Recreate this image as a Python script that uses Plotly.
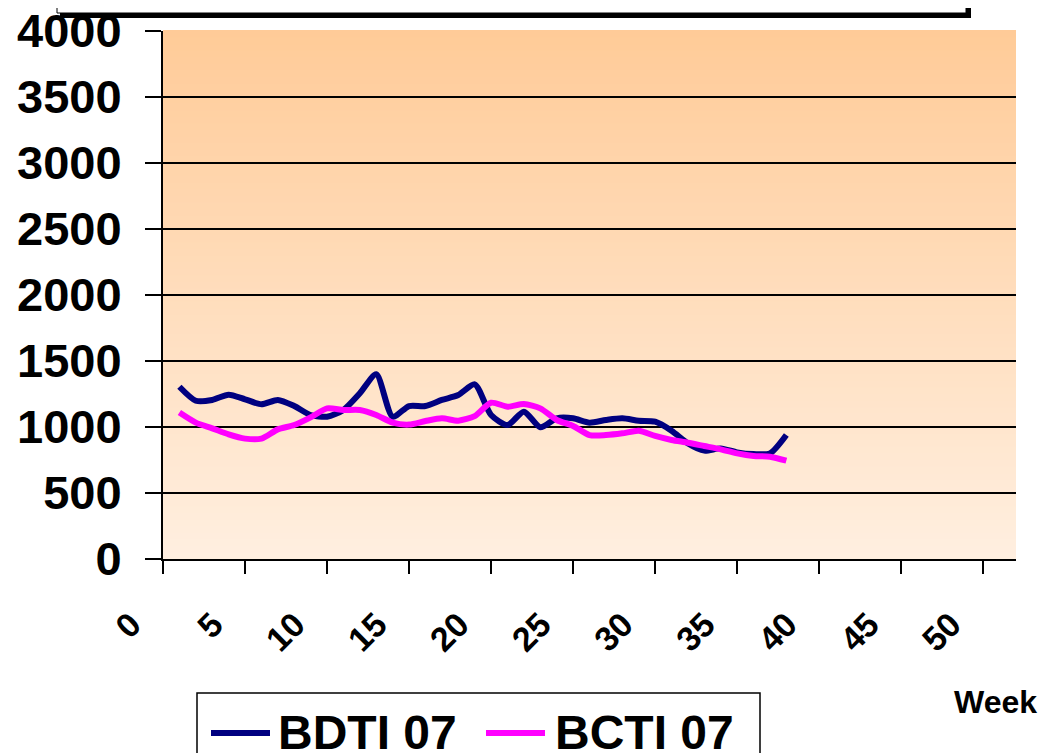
import plotly.graph_objects as go

weeks = list(range(1, 39))
bdti_07 = [1305, 1199, 1205, 1245, 1210, 1172, 1205, 1159, 1091, 1078,
           1129, 1255, 1399, 1078, 1159, 1159, 1205, 1242, 1323, 1091,
           1015, 1116, 998, 1066, 1066, 1033, 1053, 1066, 1048, 1040,
           972, 876, 821, 838, 808, 795, 800, 939]
bcti_07 = [1109, 1033, 990, 944, 912, 912, 982, 1015, 1073, 1141,
           1129, 1129, 1091, 1033, 1018, 1045, 1066, 1048, 1083, 1184,
           1154, 1174, 1141, 1053, 1008, 939, 939, 952, 972, 932,
           902, 881, 856, 831, 800, 780, 775, 745]
series_names = ["BDTI 07", "BCTI 07"]
series_colors = ["#000080", "#FF00FF"]
x_ticks = list(range(0, 55, 5))
y_ticks = list(range(0, 4500, 500))

# page is offset by the 8px default body margin
OFF = 8
W, H = 1051 - OFF, 753 - OFF
L, R, T, B = 163, 1016, 31, 559  # page pixel coords of plot area
FONT = "Arial, Liberation Sans, sans-serif"

fig = go.Figure()
for name, vals, col in zip(series_names, [bdti_07, bcti_07], series_colors):
    fig.add_trace(go.Scatter(
        x=weeks, y=vals, name=name, mode="lines",
        line=dict(color=col, width=6, shape="spline", smoothing=0.7),
        showlegend=False,
    ))

def px_x(px):
    return (px - L) / (R - L)

def px_y(py):
    return (B - py) / (B - T)

shapes = []
# gradient background
n = 80
top_c = (255, 203, 152)
bot_c = (255, 239, 224)
for i in range(n):
    f0 = i / n
    f1 = (i + 1) / n
    fm = (i + 0.5) / n
    c = tuple(round(bot_c[k] + (top_c[k] - bot_c[k]) * fm) for k in range(3))
    shapes.append(dict(type="rect", xref="paper", yref="paper", x0=0, x1=1,
                       y0=f0, y1=f1 + 0.002, layer="below", line=dict(width=0),
                       fillcolor="rgb(%d,%d,%d)" % c))

# title box remnant at top (cut off)
shapes.append(dict(type="rect", xref="paper", yref="paper",
                   x0=px_x(57), x1=px_x(966), y0=px_y(13), y1=px_y(-20),
                   line=dict(color="black", width=1), fillcolor="white"))
shapes.append(dict(type="rect", xref="paper", yref="paper",
                   x0=px_x(60), x1=px_x(971), y0=px_y(18), y1=px_y(13),
                   line=dict(width=0), fillcolor="black"))
shapes.append(dict(type="rect", xref="paper", yref="paper",
                   x0=px_x(966), x1=px_x(971), y0=px_y(18), y1=px_y(-20),
                   line=dict(width=0), fillcolor="black"))

# legend box (cut off at bottom)
shapes.append(dict(type="rect", xref="paper", yref="paper",
                   x0=px_x(197), x1=px_x(760), y0=px_y(790), y1=px_y(693),
                   line=dict(color="black", width=1.5), fillcolor="white"))
legend_items = [(211, 270, 276), (486, 545, 553)]
annotations = []
for (lx0, lx1, tx), name, col in zip(legend_items, series_names, series_colors):
    shapes.append(dict(type="line", xref="paper", yref="paper",
                       x0=px_x(lx0), x1=px_x(lx1), y0=px_y(733), y1=px_y(733),
                       line=dict(color=col, width=6)))
    annotations.append(dict(
        text="<b>%s</b>" % name, xref="paper", yref="paper",
        x=px_x(tx), y=px_y(732), showarrow=False,
        xanchor="left", yanchor="middle",
        font=dict(family=FONT, size=48, color="black"),
    ))

annotations.append(dict(
    text="<b>Week</b>", xref="paper", yref="paper",
    x=px_x(995), y=px_y(702), showarrow=False,
    xanchor="center", yanchor="middle",
    font=dict(family=FONT, size=32, color="black"),
))

fig.update_layout(
    width=W, height=H,
    margin=dict(l=L - OFF, r=W - (R - OFF), t=T - OFF, b=H - (B - OFF),
                pad=0, autoexpand=False),
    paper_bgcolor="white",
    plot_bgcolor="rgba(0,0,0,0)",
    shapes=shapes,
    annotations=annotations,
    font=dict(family=FONT, color="black"),
    showlegend=False,
)

fig.update_xaxes(
    range=[0, 52], tickvals=x_ticks, ticktext=[str(v) for v in x_ticks],
    tickangle=-45, ticks="outside", ticklen=13, tickwidth=2, tickcolor="black",
    showline=True, linecolor="black", linewidth=2, showgrid=False, zeroline=False,
    tickfont=dict(family=FONT, size=34, color="black", weight="bold"),
    ticklabelstandoff=17, ticklabelshift=-32, automargin=False,
    ticklabeloverflow="allow",
)
fig.update_yaxes(
    range=[0, 4000], tickvals=y_ticks, ticktext=[str(v) for v in y_ticks],
    ticks="outside", ticklen=16, tickwidth=2, tickcolor="black",
    showline=True, linecolor="black", linewidth=2,
    showgrid=True, gridcolor="black", gridwidth=1.5, zeroline=False,
    tickfont=dict(family=FONT, size=47, color="black", weight="bold"),
    ticklabelstandoff=14, automargin=False, ticklabeloverflow="allow",
)

fig.write_html("out.html")
